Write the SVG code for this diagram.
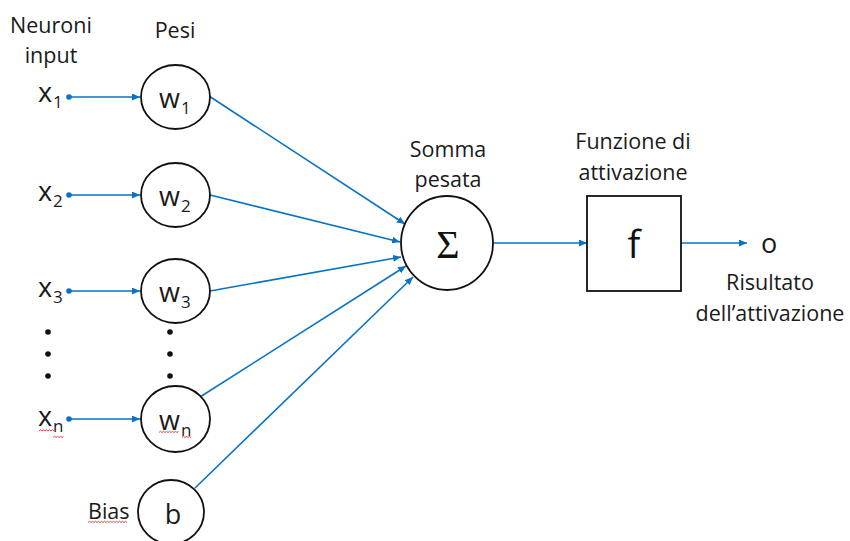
<svg xmlns="http://www.w3.org/2000/svg" width="850" height="541" viewBox="0 0 850 541">
  <style>
    .lbl { font-family: "Open Sans", "Liberation Sans", sans-serif; font-size: 21.5px; fill: #1a1a1a; }
    .sym { font-family: "Open Sans", "Liberation Sans", sans-serif; font-size: 27px; fill: #1a1a1a; }
    .sub { font-family: "Open Sans", "Liberation Sans", sans-serif; font-size: 17px; fill: #1a1a1a; }
    .node { fill: #ffffff; stroke: #111111; stroke-width: 1.8; }
    .wire { stroke: #0a72c2; stroke-width: 1.6; fill: none; }
    .dot { fill: #0a72c2; }
    .ellip { fill: #111111; }
    .squig { stroke: #e03030; stroke-width: 0.9; fill: none; }
  </style>
  <defs>
    <marker id="arrow" markerUnits="userSpaceOnUse" markerWidth="9" markerHeight="7" refX="8" refY="3.5" orient="auto">
      <path d="M0,0 L8,3.5 L0,7 z" fill="#0a72c2"/>
    </marker>
  </defs>

  <rect width="850" height="541" fill="#ffffff"/>

  <!-- column headers -->
  <g id="header-inputs">
    <text class="lbl" x="51" y="33" text-anchor="middle">Neuroni</text>
    <text class="lbl" x="51" y="63" text-anchor="middle">input</text>
  </g>
  <g id="header-weights">
    <text class="lbl" x="175" y="38" text-anchor="middle">Pesi</text>
  </g>

  <!-- connectors -->
  <g id="connectors">
    <!-- inputs into weights -->
    <line class="wire" x1="69" y1="97" x2="140" y2="97" marker-end="url(#arrow)"/>
    <line class="wire" x1="69" y1="195" x2="140" y2="195" marker-end="url(#arrow)"/>
    <line class="wire" x1="69" y1="291" x2="140" y2="291" marker-end="url(#arrow)"/>
    <line class="wire" x1="69" y1="419" x2="140" y2="419" marker-end="url(#arrow)"/>
    <circle class="dot" cx="69" cy="97" r="2.8"/>
    <circle class="dot" cx="69" cy="195" r="2.8"/>
    <circle class="dot" cx="69" cy="291" r="2.8"/>
    <circle class="dot" cx="69" cy="419" r="2.8"/>
    <!-- weights into the sum -->
    <line class="wire" x1="209" y1="96" x2="405" y2="224" marker-end="url(#arrow)"/>
    <line class="wire" x1="210" y1="195" x2="400" y2="242" marker-end="url(#arrow)"/>
    <line class="wire" x1="210" y1="291" x2="401" y2="257" marker-end="url(#arrow)"/>
    <line class="wire" x1="200" y1="397" x2="406" y2="266" marker-end="url(#arrow)"/>
    <line class="wire" x1="195" y1="488" x2="413" y2="277" marker-end="url(#arrow)"/>
    <!-- sum to activation, activation to output -->
    <line class="wire" x1="493" y1="243" x2="587" y2="243" marker-end="url(#arrow)"/>
    <line class="wire" x1="681" y1="243" x2="747" y2="243" marker-end="url(#arrow)"/>
  </g>

  <!-- inputs -->
  <g id="x1"><text class="sym" x="38" y="102">x</text><text class="sub" x="53" y="108">1</text></g>
  <g id="x2"><text class="sym" x="38" y="201">x</text><text class="sub" x="53" y="207">2</text></g>
  <g id="x3"><text class="sym" x="38" y="297">x</text><text class="sub" x="53" y="303">3</text></g>
  <g id="xn">
    <text class="sym" x="38" y="426">x</text><text class="sub" x="53" y="432">n</text>
    <path class="squig" d="M39,431 l1.5,-1.2 l1.5,1.2 l1.5,-1.2 l1.5,1.2 l1.5,-1.2 l1.5,1.2 l1.5,-1.2 l1.5,1.2 l1.5,-1.2 l1.5,1.2"/>
    <path class="squig" d="M53,437.5 l1.5,-1.2 l1.5,1.2 l1.5,-1.2 l1.5,1.2 l1.5,-1.2 l1.5,1.2 l1.5,-1.2"/>
  </g>
  <g id="input-ellipsis">
    <circle class="ellip" cx="48" cy="332" r="2.8"/>
    <circle class="ellip" cx="48" cy="354" r="2.8"/>
    <circle class="ellip" cx="48" cy="376" r="2.8"/>
  </g>

  <!-- weights -->
  <g id="w1">
    <ellipse class="node" cx="175.5" cy="97" rx="34.5" ry="32"/>
    <text class="sym" x="159" y="108">w</text><text class="sub" x="181" y="114">1</text>
  </g>
  <g id="w2">
    <ellipse class="node" cx="175.5" cy="195" rx="34.5" ry="32"/>
    <text class="sym" x="159" y="206">w</text><text class="sub" x="181" y="212">2</text>
  </g>
  <g id="w3">
    <ellipse class="node" cx="175.5" cy="291" rx="34.5" ry="32"/>
    <text class="sym" x="159" y="302">w</text><text class="sub" x="181" y="308">3</text>
  </g>
  <g id="weight-ellipsis">
    <circle class="ellip" cx="170" cy="332" r="2.8"/>
    <circle class="ellip" cx="170" cy="354" r="2.8"/>
    <circle class="ellip" cx="170" cy="376" r="2.8"/>
  </g>
  <g id="wn">
    <ellipse class="node" cx="175.5" cy="419" rx="34.5" ry="33"/>
    <text class="sym" x="159" y="430">w</text><text class="sub" x="181" y="436">n</text>
    <path class="squig" d="M159,432.5 l1.5,-1.2 l1.5,1.2 l1.5,-1.2 l1.5,1.2 l1.5,-1.2 l1.5,1.2 l1.5,-1.2 l1.5,1.2 l1.5,-1.2 l1.5,1.2 l1.5,-1.2 l1.5,1.2 l1.5,-1.2"/>
    <path class="squig" d="M182,437.5 l1.5,-1.2 l1.5,1.2 l1.5,-1.2 l1.5,1.2 l1.5,-1.2 l1.5,1.2"/>
  </g>
  <g id="bias">
    <ellipse class="node" cx="171" cy="512" rx="33" ry="32"/>
    <text class="sym" x="173" y="524" text-anchor="middle">b</text>
    <text class="lbl" x="88" y="519">Bias</text>
    <path class="squig" d="M88,522.5 l1.5,-1.2 l1.5,1.2 l1.5,-1.2 l1.5,1.2 l1.5,-1.2 l1.5,1.2 l1.5,-1.2 l1.5,1.2 l1.5,-1.2 l1.5,1.2 l1.5,-1.2 l1.5,1.2 l1.5,-1.2 l1.5,1.2 l1.5,-1.2 l1.5,1.2 l1.5,-1.2 l1.5,1.2 l1.5,-1.2 l1.5,1.2 l1.5,-1.2 l1.5,1.2 l1.5,-1.2 l1.5,1.2 l1.5,-1.2 l1.5,1.2"/>
  </g>

  <!-- weighted sum -->
  <g id="sum">
    <text class="lbl" x="448" y="157" text-anchor="middle">Somma</text>
    <text class="lbl" x="448" y="187" text-anchor="middle">pesata</text>
    <ellipse class="node" cx="447" cy="243" rx="46" ry="47"/>
    <text x="448" y="258" text-anchor="middle" font-family="Liberation Serif, serif" font-size="40" fill="#111111">Σ</text>
  </g>

  <!-- activation function -->
  <g id="activation">
    <text class="lbl" x="633" y="149" text-anchor="middle">Funzione di</text>
    <text class="lbl" x="633" y="180" text-anchor="middle">attivazione</text>
    <rect class="node" x="587" y="196" width="94" height="95"/>
    <text x="634" y="258" text-anchor="middle" font-family="Open Sans, Liberation Sans, sans-serif" font-size="38" fill="#111111">f</text>
  </g>

  <!-- output -->
  <g id="output">
    <text class="sym" x="769" y="253" text-anchor="middle">o</text>
    <text class="lbl" x="770" y="290" text-anchor="middle">Risultato</text>
    <text class="lbl" x="770" y="321" text-anchor="middle">dell’attivazione</text>
  </g>
</svg>
